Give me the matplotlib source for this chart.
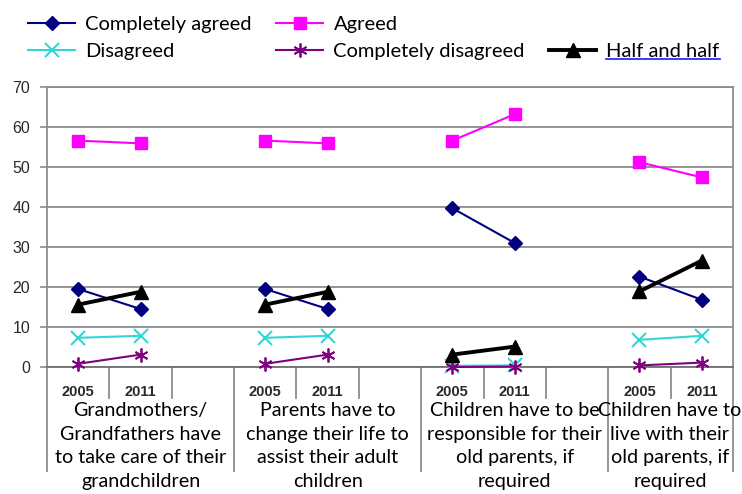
import matplotlib.pyplot as plt
from matplotlib.lines import Line2D

# values: 4 statements x (2005, 2011)
years = ["2005", "2011"]
groups = ["Grandmothers/\nGrandfathers have\nto take care of their\ngrandchildren",
          "Parents have to\nchange their life to\nassist their adult\nchildren",
          "Children have to be\nresponsible for their\nold parents, if\nrequired",
          "Children have to\nlive with their\nold parents, if\nrequired"]
completely_agreed = [19.5, 14.5, 19.5, 14.5, 39.7, 31.0, 22.6, 16.8]
agreed = [56.6, 55.9, 56.6, 55.9, 56.6, 63.2, 51.2, 47.4]
disagreed = [7.3, 7.8, 7.3, 7.8, 0.3, 0.4, 6.8, 7.8]
completely_disagreed = [0.8, 3.1, 0.8, 3.1, 0.0, 0.1, 0.4, 1.1]
half_and_half = [15.6, 18.8, 15.6, 18.8, 3.1, 5.1, 18.9, 26.6]

series = [
    ("Completely agreed", completely_agreed, dict(color="#000080", marker="D", ms=7, lw=1.5)),
    ("Agreed", agreed, dict(color="#FF00FF", marker="s", ms=9, lw=1.5)),
    ("Disagreed", disagreed, dict(color="#33D6D6", marker="x", ms=10, mew=1.5, lw=1.5)),
    ("Completely disagreed", completely_disagreed, dict(color="#800080", marker=(6, 2, 0), ms=10, mew=1.3, lw=1.5)),
    ("Half and half", half_and_half, dict(color="black", marker="^", ms=10, lw=2.8)),
]

plt.rcParams['font.family'] = ['Liberation Sans', 'DejaVu Sans']
label_font = ['Lato', 'DejaVu Sans']

fig = plt.figure(figsize=(7.42, 4.94), dpi=100)
ax = fig.add_axes([47/742, 127/494, 686/742, 280/494])

# slot positions: 2005, 2011, blank, 2005, 2011, blank ...
xpos = []
for g in range(len(groups)):
    xpos += [3*g, 3*g + 1]

handles = {}
for name, vals, st in series:
    for g in range(len(groups)):
        h, = ax.plot(xpos[2*g:2*g+2], vals[2*g:2*g+2], clip_on=False, zorder=3, **st)
    handles[name] = h

ax.set_xlim(-0.5, 10.5)
ax.set_ylim(0, 70)
ax.set_yticks(range(0, 71, 10))
ax.yaxis.grid(True, color="#8c8c8c", lw=1.3)
ax.set_axisbelow(True)
for s in ax.spines.values():
    s.set_color("#8c8c8c")
    s.set_linewidth(1.3)
ax.spines['bottom'].set_color("#707070")
ax.tick_params(axis='y', labelsize=11.5, labelcolor="#2a2a2a", color="#8c8c8c",
               length=5, width=1.2, pad=7)

ax.set_xticks(xpos)
ax.set_xticklabels(years * len(groups), fontsize=10.5, fontweight='bold', color="#2a2a2a")
ax.tick_params(axis='x', length=0, pad=13)

trans = ax.get_xaxis_transform()
# separators under the axis
for g in range(len(groups)):
    ax.plot([3*g - 0.5]*2, [0, -0.37], transform=trans, color="#8c8c8c", lw=1.3, clip_on=False)
    ax.plot([3*g + 0.5]*2, [0, -0.11], transform=trans, color="#8c8c8c", lw=1.3, clip_on=False)
    if g < len(groups) - 1:
        ax.plot([3*g + 1.5]*2, [0, -0.11], transform=trans, color="#8c8c8c", lw=1.3, clip_on=False)
ax.plot([10.5]*2, [0, -0.37], transform=trans, color="#8c8c8c", lw=1.3, clip_on=False)

centers = [1, 4, 7]
for c, lab in zip(centers, groups[:3]):
    ax.text(c, -0.125, lab, transform=trans, ha='center', va='top', fontsize=14.2,
            family=label_font, linespacing=1.47, color="black")
# last label hugs the right edge of the figure
ax.text(1.0125, -0.125, groups[3], transform=ax.transAxes, ha='right', va='top',
        multialignment='center', fontsize=14.2, family=label_font, linespacing=1.47)

# legend (column-major: col1, col2, col3)
blank = Line2D([], [], color='none')
order = [handles["Completely agreed"], handles["Disagreed"],
         handles["Agreed"], handles["Completely disagreed"],
         blank, handles["Half and half"]]
labels = ["Completely agreed", "Disagreed", "Agreed", "Completely disagreed", "", "Half and half"]
leg = fig.legend(order, labels, ncol=3, loc='upper left', bbox_to_anchor=(28/742, 1 - 16/494),
                 frameon=False, borderpad=0, borderaxespad=0, handlelength=2.35,
                 handletextpad=0.5, columnspacing=1.2, labelspacing=0.47,
                 prop={'family': label_font, 'size': 14.5})

fig.canvas.draw()
txt = leg.get_texts()[5]
bb = txt.get_window_extent().transformed(fig.transFigure.inverted())
fig.add_artist(Line2D([bb.x0, bb.x1], [bb.y0 + 0.002]*2, color="#1a1aff", lw=1.2,
                      transform=fig.transFigure))

fig.savefig("out.png", dpi=100)
